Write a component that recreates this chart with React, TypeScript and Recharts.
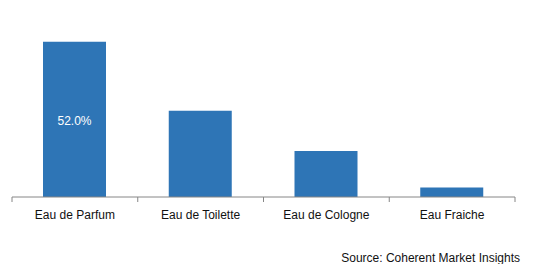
import { BarChart, Bar, XAxis, YAxis, LabelList } from 'recharts'

const categories = ['Eau de Parfum', 'Eau de Toilette', 'Eau de Cologne', 'Eau Fraiche']
const shares = [52.0, 28.9, 15.4, 3.2]
const barLabels = ['52.0%', '', '', '']

const data = categories.map((name, i) => ({
  name,
  share: shares[i],
  label: barLabels[i],
}))

const FONT = '"Liberation Sans", Arial, sans-serif'

const CategoryTick = (props: any) => {
  const { x, y, payload, visibleTicksCount } = props
  const half = payload.offset || 0
  const axisY = y - 5
  const isLast = payload.index === visibleTicksCount - 1
  return (
    <g>
      <line x1={x - half} x2={x - half} y1={axisY} y2={axisY + 5} stroke="#868686" />
      {isLast && (
        <line x1={x + half} x2={x + half} y1={axisY} y2={axisY + 5} stroke="#868686" />
      )}
      <text x={x} y={y} dy={17} textAnchor="middle" fontSize={12} fontFamily={FONT} fill="#111">
        {payload.value}
      </text>
    </g>
  )
}

export default function App() {
  return (
    <div style={{ position: 'relative', width: 535, height: 272, margin: -8, background: '#fff' }}>
      <BarChart
        width={535}
        height={272}
        data={data}
        margin={{ top: 18, right: 20, left: 12, bottom: 45 }}
      >
        <XAxis
          dataKey="name"
          height={30}
          interval={0}
          tickLine={false}
          tickSize={5}
          tickMargin={0}
          axisLine={{ stroke: '#868686' }}
          tick={<CategoryTick />}
        />
        <YAxis hide domain={[0, 60]} />
        <Bar dataKey="share" fill="#2E75B6" barSize={63} isAnimationActive={false}>
          <LabelList
            dataKey="label"
            position="center"
            fill="#fff"
            fontSize={12}
            fontFamily={FONT}
            dy={1}
          />
        </Bar>
      </BarChart>
      {/* outer frame + source note */}
      <svg
        width={535}
        height={272}
        style={{ position: 'absolute', left: 0, top: 0, pointerEvents: 'none' }}
      >
        <rect x={3.5} y={4.5} width={526} height={260} fill="none" stroke="#000" strokeWidth={1} />
        <text x={520} y={262} textAnchor="end" fontSize={12} fontFamily={FONT} fill="#111">
          Source: Coherent Market Insights
        </text>
      </svg>
    </div>
  )
}
